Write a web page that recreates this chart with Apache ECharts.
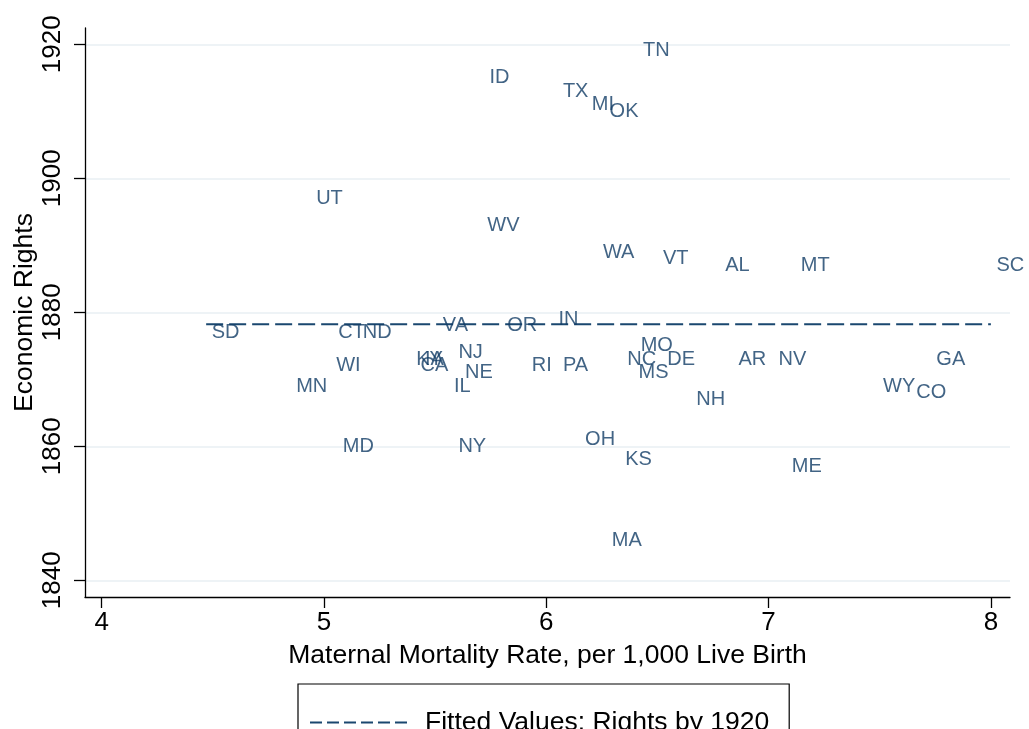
<!DOCTYPE html>
<html>
<head>
<meta charset="utf-8">
<script src="https://cdn.jsdelivr.net/npm/echarts@6/dist/echarts.min.js"></script>
<style>
html,body{margin:0;padding:0;background:#fff;}
#chart{width:1029px;height:729px;}
</style>
</head>
<body>
<div id="chart"></div>
<script>
// ---- data ----
const states = ['TN','ID','TX','MI','OK','UT','WV','WA','VT','AL','MT','SC',
  'SD','CT','ND','VA','OR','IN','MO','NJ','KY','IA','NC','DE','AR','NV','GA',
  'WI','CA','NE','RI','PA','MS','MN','IL','WY','CO','NH','MD','NY','OH','KS','ME','MA'];
const mortality = [6.41,5.72,6.05,6.18,6.26,4.94,5.71,6.23,6.50,6.78,7.12,8.00,
  4.47,5.04,5.15,5.51,5.80,6.03,6.40,5.58,5.39,5.43,6.34,6.52,6.84,7.02,7.73,
  5.03,5.41,5.61,5.91,6.05,6.39,4.85,5.56,7.49,7.64,6.65,5.06,5.58,6.15,6.33,7.08,6.27];
const rights = [1919,1915,1913,1911,1910,1897,1893,1889,1888,1887,1887,1887,
  1877,1877,1877,1878,1878,1879,1875,1874,1873,1873,1873,1873,1873,1873,1873,
  1872,1872,1871,1872,1872,1871,1869,1869,1869,1868,1867,1860,1860,1861,1858,1857,1846];
const fitX = [4.47, 8.00];
const fitY = [1878.2, 1878.2];
const xTicks = [4,5,6,7,8];
const yTicks = [1840,1860,1880,1900,1920];
const fitName = 'Fitted Values: Rights by 1920';
const xTitle = 'Maternal Mortality Rate, per 1,000 Live Birth';
const yTitle = 'Economic Rights';

const FONT = '"Liberation Sans", Arial, Helvetica, sans-serif';
const NAVY = '#1a476f';
const LABEL = '#133d66';

const scatterData = states.map((s, i) => [mortality[i], rights[i], s]);
const fitData = fitX.map((x, i) => [x, fitY[i]]);

const chart = echarts.init(document.getElementById('chart'), null, {renderer: 'canvas'});
chart.setOption({
  animation: false,
  backgroundColor: '#fff',
  textStyle: {fontFamily: FONT},
  grid: {left: 85, top: 28, right: 19, bottom: 132, containLabel: false, outerBoundsMode: 'none'},
  xAxis: {
    type: 'value',
    min: 3.925, max: 8.086,
    name: xTitle,
    nameLocation: 'middle',
    nameGap: 45,
    nameMoveOverlap: false,
    nameTextStyle: {fontSize: 26.5, color: '#000', fontFamily: FONT},
    axisLine: {show: true, onZero: false, lineStyle: {color: '#000', width: 1.3}},
    axisTick: {show: true, inside: false, length: 11, lineStyle: {color: '#000', width: 1.3}, customValues: xTicks},
    axisLabel: {fontSize: 26, color: '#000', margin: 13, fontFamily: FONT, customValues: xTicks,
      formatter: v => String(v)},
    splitLine: {show: false}
  },
  yAxis: {
    type: 'value',
    min: 1837.51, max: 1922.43,
    name: yTitle,
    nameLocation: 'middle',
    nameGap: 47,
    nameMoveOverlap: false,
    nameTextStyle: {fontSize: 26.5, color: '#000', fontFamily: FONT},
    axisLine: {show: true, onZero: false, lineStyle: {color: '#000', width: 1.3}},
    axisTick: {show: true, inside: false, length: 11, lineStyle: {color: '#000', width: 1.3}, customValues: yTicks},
    axisLabel: {fontSize: 26, color: '#000', margin: 19, rotate: 90, fontFamily: FONT, customValues: yTicks,
      formatter: v => String(v)},
    splitLine: {show: true, lineStyle: {color: '#e8eff3', width: 1.5}}
  },
  legend: {
    show: true,
    data: [fitName],
    left: 298, top: 684,
    orient: 'horizontal',
    borderColor: '#000', borderWidth: 1.2,
    padding: [25, 20, 22, 11],
    itemWidth: 99, itemHeight: 20,
    itemStyle: {color: 'rgba(0,0,0,0)', borderWidth: 0, opacity: 0},
    lineStyle: {type: [12, 5], width: 2, color: NAVY},
    textStyle: {fontSize: 26.5, color: '#000', fontFamily: FONT, padding: [0, 0, 0, 11]}
  },
  series: [
    {
      type: 'scatter',
      name: 'states',
      data: scatterData,
      symbol: 'circle',
      symbolSize: 1,
      itemStyle: {color: 'rgba(0,0,0,0)'},
      clip: false,
      label: {
        show: true,
        position: 'right',
        distance: 5,
        offset: [0, 2],
        formatter: p => p.data[2],
        fontSize: 20,
        color: LABEL,
        fontFamily: FONT
      },
      labelLayout: {hideOverlap: false},
      emphasis: {disabled: true},
      z: 3
    },
    {
      type: 'line',
      name: fitName,
      data: fitData,
      symbol: 'none',
      showSymbol: false,
      lineStyle: {type: [17, 6], width: 2, color: NAVY},
      itemStyle: {color: NAVY},
      z: 2
    }
  ]
});
</script>
</body>
</html>
